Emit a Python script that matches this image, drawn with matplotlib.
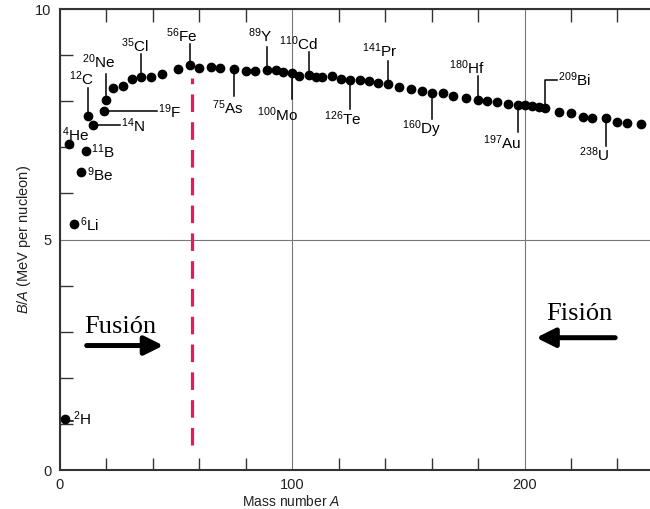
import numpy as np
import matplotlib
matplotlib.use('Agg')
import matplotlib.pyplot as plt
from matplotlib.ticker import MultipleLocator

plt.rcParams['font.family'] = ['Liberation Sans', 'DejaVu Sans']
plt.rcParams['mathtext.fontset'] = 'custom'
plt.rcParams['mathtext.rm'] = 'Liberation Sans'
plt.rcParams['mathtext.it'] = 'Liberation Sans:italic'
plt.rcParams['mathtext.default'] = 'regular'

# binding energy per nucleon
mass_number = [2, 4, 6, 9, 11, 12, 14, 19, 20,
               23, 27, 31, 35, 39, 44, 51, 56, 60, 65, 69, 75, 80, 84, 89, 93, 96,
               100, 103, 107, 110, 113, 117, 121, 125, 129, 133, 137, 141, 146,
               151, 156, 160, 165, 169, 175, 180, 184, 188, 193, 197, 200, 203,
               206, 209, 215, 220, 225, 229, 235, 240, 244, 250]
b_per_a = [1.11, 7.07, 5.33, 6.46, 6.93, 7.68, 7.48, 7.78, 8.03,
           8.28, 8.33, 8.48, 8.52, 8.53, 8.59, 8.70, 8.79, 8.72, 8.74, 8.72, 8.70, 8.65, 8.65, 8.67, 8.67, 8.63,
           8.61, 8.54, 8.57, 8.52, 8.52, 8.54, 8.48, 8.46, 8.46, 8.43, 8.39, 8.37, 8.30,
           8.26, 8.22, 8.17, 8.17, 8.11, 8.07, 8.02, 8.00, 7.98, 7.93, 7.91, 7.91, 7.89,
           7.87, 7.85, 7.76, 7.74, 7.65, 7.63, 7.63, 7.54, 7.52, 7.50]

# nuclide labels: text and the dot (mass number on the plot) they point at
nuclide_text = ['$^{2}$H', '$^{4}$He', '$^{6}$Li', '$^{9}$Be', '$^{11}$B', '$^{12}$C',
                '$^{14}$N', '$^{19}$F', '$^{20}$Ne', '$^{35}$Cl', '$^{56}$Fe', '$^{75}$As',
                '$^{89}$Y', '$^{100}$Mo', '$^{110}$Cd', '$^{126}$Te', '$^{141}$Pr',
                '$^{160}$Dy', '$^{180}$Hf', '$^{197}$Au', '$^{209}$Bi', '$^{238}$U']
nuclide_dot = [2, 4, 6, 9, 11, 12, 14, 19, 20, 35, 56, 75, 89, 100, 107, 125, 141,
               160, 180, 197, 209, 235]

# label placement: (text x, text y, leader end x, leader end y, ha)
label_pos = [
    (5.8, 1.11, 5.5, 1.06, 'left'),
    (0.9, 7.28, None, None, 'left'),
    (8.6, 5.33, None, None, 'left'),
    (11.6, 6.40, None, None, 'left'),
    (13.3, 6.90, None, None, 'left'),
    (9.0, 8.48, 12, 8.28, 'center'),
    (26.2, 7.46, 25.8, 7.48, 'left'),
    (42.2, 7.78, 41.7, 7.78, 'left'),
    (16.8, 8.85, 20, 8.59, 'center'),
    (32.3, 9.20, 35, 9.02, 'center'),
    (52.5, 9.43, 56, 9.24, 'center'),
    (72.3, 7.85, 75, 8.11, 'center'),
    (86.0, 9.43, 89, 9.17, 'center'),
    (93.8, 7.70, 100, 8.04, 'center'),
    (102.8, 9.24, 107, 9.07, 'center'),
    (121.7, 7.61, 125, 7.83, 'center'),
    (137.6, 9.09, 141, 8.87, 'center'),
    (155.7, 7.39, 160, 7.61, 'center'),
    (175.0, 8.72, 180, 8.54, 'center'),
    (190.5, 7.11, 197, 7.33, 'center'),
    (214.6, 8.46, 213.8, 8.46, 'left'),
    (230.0, 6.85, 235, 7.02, 'center'),
]

fig = plt.figure(figsize=(6.5, 5.09), dpi=100)
ax = fig.add_axes([0.0923, 0.0766, 0.9077, 0.9057])

ax.plot(mass_number, b_per_a, 'o', color='black', markersize=6.0, zorder=5)

dots = dict(zip(mass_number, b_per_a))
for txt, a, (tx, ty, lx, ly, ha) in zip(nuclide_text, nuclide_dot, label_pos):
    ya = dots[a]
    if lx is not None:
        if a == 209:
            ax.plot([a, a, lx], [ya, ly, ly], color='black', lw=1.1)
        elif lx == a:
            ax.plot([a, a], [ya, ly], color='black', lw=1.1)
        else:
            ax.plot([a, lx], [ly, ly], color='black', lw=1.1)
    ax.text(tx, ty, txt, ha=ha, va='center', fontsize=11)

# Fe-56 marker and fusion / fission arrows
ax.plot([57, 57], [0.55, 8.5], color='#e8185a', lw=2.3, dashes=(5.5, 3.2), zorder=2)
ax.annotate('', xy=(44.5, 2.70), xytext=(11.5, 2.70),
            arrowprops=dict(arrowstyle='-|>', lw=3.6, mutation_scale=28, color='black',
                            shrinkA=0, shrinkB=0))
ax.annotate('', xy=(205.0, 2.87), xytext=(239.0, 2.87),
            arrowprops=dict(arrowstyle='-|>', lw=3.6, mutation_scale=28, color='black',
                            shrinkA=0, shrinkB=0))
ax.text(25.8, 3.11, 'Fusión', ha='center', va='center', fontsize=19,
        family='Liberation Serif')
ax.text(223.7, 3.39, 'Fisión', ha='center', va='center', fontsize=19,
        family='Liberation Serif')

ax.set_xlim(0, 254)
ax.set_ylim(0, 10)
ax.set_xticks([0, 100, 200])
ax.set_yticks([0, 5, 10])
ax.xaxis.set_minor_locator(MultipleLocator(20))
ax.yaxis.set_minor_locator(MultipleLocator(1))
ax.tick_params(which='major', length=0, labelsize=10.5, pad=6, colors='#222222')
ax.tick_params(which='minor', direction='in', length=9, width=1, color='#333333',
               top=True)
ax.grid(True, which='major', color='#777777', lw=0.8)
ax.spines['right'].set_visible(False)
for s in ['left', 'bottom', 'top']:
    ax.spines[s].set_linewidth(1.5)
    ax.spines[s].set_color('#333333')

ax.set_xlabel('Mass number $\\mathit{A}$', fontsize=10, color='#222222')
ax.xaxis.set_label_coords(0.392, -0.052)
ax.set_ylabel('$\\mathit{B/A}$ (MeV per nucleon)', fontsize=10.5, color='#222222')
ax.yaxis.set_label_coords(-0.046, 0.5)

fig.savefig('out.png', dpi=100)
